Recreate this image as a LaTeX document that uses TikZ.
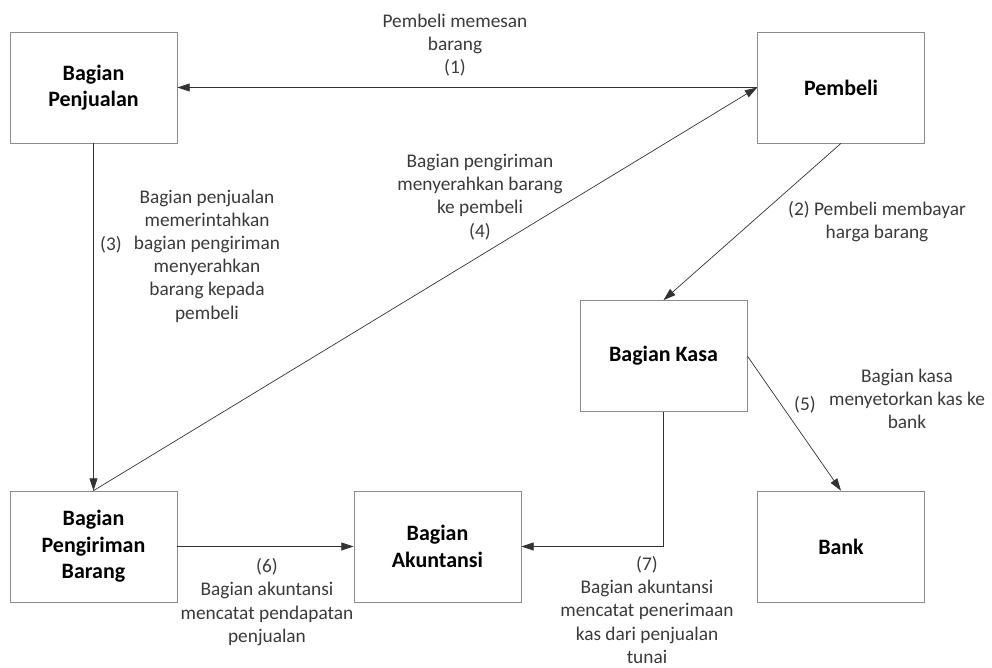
\documentclass[tikz,border=0pt]{standalone}
\usepackage{fontspec}
\setmainfont{Carlito}
\usetikzlibrary{positioning,arrows.meta}
\definecolor{boxline}{HTML}{8C8C8C}
\definecolor{txt}{HTML}{3A3A3A}
\tikzset{box/.style = {rectangle,draw=boxline,minimum width=3.34cm,minimum height=2.22cm,align=center,inner sep=0pt,font=\fontsize{12.5}{15}\selectfont\bfseries},
         lbl/.style = {align=center,text=txt,inner sep=0pt,font=\fontsize{11}{13.2}\selectfont},
         flow/.style = {draw=black!80,-{Triangle[length=7pt,width=4.5pt]}}}

\begin{document}
\begin{tikzpicture}[x=0.02cm,y=-0.02cm]
            \useasboundingbox (0,0) rectangle (992,668);
            \node[box] (jual)  at (93.5,87.5)  {Bagian\\Penjualan};
            \node[box] (beli)  at (841,87.5)   {Pembeli};
            \node[box] (kasa)  at (663.5,356)  {Bagian Kasa};
            \node[box] (kirim) at (93.5,546.5) {Bagian\\Pengiriman\\Barang};
            \node[box] (akun)  at (437.5,546.5) {Bagian\\Akuntansi};
            \node[box] (bank)  at (841,546.5)  {Bank};
            \draw[flow] (beli) -- (jual);
            \draw[flow] (beli.south) -- (kasa.north);
            \draw[flow] (jual) -- (kirim);
            \draw[flow] (kirim.north) -- (beli.west);
            \draw[flow] (kasa.east) -- (bank.north);
            \draw[flow] (kirim) -- (akun);
            \draw[flow] (kasa.south) |- (akun.east);
            \node[lbl] (t1) at (455,45)    {Pembeli memesan\\barang\\(1)};
            \node[lbl] (t2) at (877,221.5) {(2) Pembeli membayar\\harga barang};
            \node[lbl] (n3) at (111,245)   {(3)};
            \node[lbl] (t3) at (207,256)   {Bagian penjualan\\memerintahkan\\bagian pengiriman\\menyerahkan\\barang kepada\\pembeli};
            \node[lbl] (t4) at (480,197)   {Bagian pengiriman\\menyerahkan barang\\ke pembeli\\(4)};
            \node[lbl] (n5) at (805,405)   {(5)};
            \node[lbl] (t5) at (907,399)   {Bagian kasa\\menyetorkan kas ke\\bank};
            \node[lbl] (t6) at (267,602)   {(6)\\Bagian akuntansi\\mencatat pendapatan\\penjualan};
            \node[lbl] (t7) at (647,610) {(7)\\Bagian akuntansi\\mencatat penerimaan\\kas dari penjualan\\tunai};
        \end{tikzpicture}
\end{document}
